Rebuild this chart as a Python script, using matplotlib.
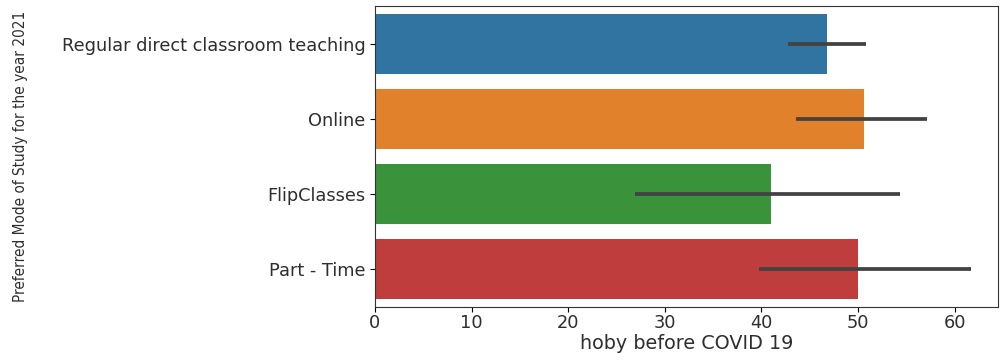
import matplotlib
matplotlib.use('Agg')
import matplotlib.pyplot as plt

# preferred study mode vs. mean "hoby before COVID 19" score, with CI bounds
modes = ['Regular direct classroom teaching', 'Online', 'FlipClasses', 'Part - Time']
means = [46.8, 50.65, 41.0, 50.0]
ci_low = [42.8, 43.6, 26.9, 39.8]
ci_high = [50.8, 57.1, 54.4, 61.7]
colors = ['#3274a1', '#e1812c', '#3a923a', '#c03d3e']

fig = plt.figure(figsize=(10.02, 3.6), dpi=100)
ax = fig.add_axes([375 / 1002, 1 - 306.5 / 360, 623 / 1002, 300.5 / 360])

ypos = list(range(len(modes)))
ax.barh(ypos, means, height=0.8, color=colors)
ax.hlines(ypos, ci_low, ci_high, color='#424242', linewidth=2.7)

ax.set_yticks(ypos)
ax.set_yticklabels(modes, fontsize=12.8, color='#2e2e2e')
ax.set_ylim(3.5, -0.5)
ax.set_xlim(0, 64.5)
ax.set_xticks([0, 10, 20, 30, 40, 50, 60])
ax.tick_params(axis='x', labelsize=12.8, labelcolor='#2e2e2e', pad=2)

ax.set_xlabel('hoby before COVID 19', fontsize=13.8, color='#2e2e2e', labelpad=1)
ax.set_ylabel('Preferred Mode of Study for the year 2021', fontsize=11,
              fontstretch='condensed', color='#2e2e2e')
ax.yaxis.set_label_coords(-0.557, 0.5)

for s in ax.spines.values():
    s.set_color('#333333')

fig.savefig('out.png', dpi=100)
